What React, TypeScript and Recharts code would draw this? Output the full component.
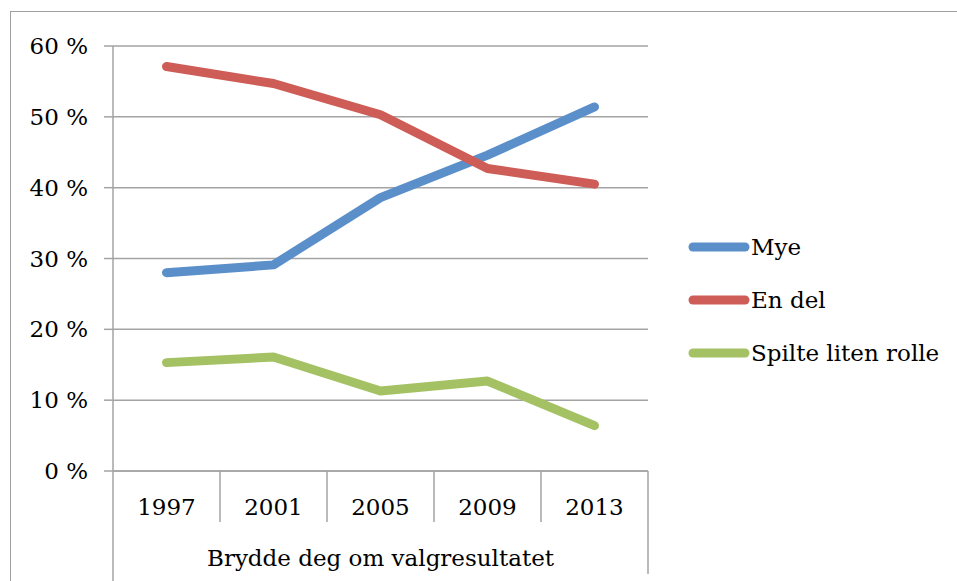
import { CartesianGrid, Line, LineChart, XAxis, YAxis } from "recharts";

const years = ["1997", "2001", "2005", "2009", "2013"];
const mye = [28.0, 29.1, 38.6, 44.6, 51.4];
const enDel = [57.1, 54.7, 50.3, 42.7, 40.5];
const spilteLiten = [15.3, 16.1, 11.3, 12.7, 6.4];
const yTicks = [0, 10, 20, 30, 40, 50, 60];
const groupLabel = "Brydde deg om valgresultatet";

const series = [
  { key: "mye", name: "Mye", color: "#5B8FCA" },
  { key: "enDel", name: "En del", color: "#CD5D56" },
  { key: "spilte", name: "Spilte liten rolle", color: "#A4C263" },
];

const data = years.map((year, i) => ({
  year,
  mye: mye[i],
  enDel: enDel[i],
  spilte: spilteLiten[i],
}));

const W = 957;
const H = 581;
const PLOT_LEFT = 113;
const PLOT_RIGHT = 648;
const PLOT_TOP = 46;
const PLOT_BOTTOM = 471;
const BAND = (PLOT_RIGHT - PLOT_LEFT) / years.length;
const FONT = "'DejaVu Serif', serif";
const FS = 23;
const AXIS_GRAY = "#a3a3a3";

function YearTick(props: any) {
  const { x, index, payload } = props;
  const left = x - BAND / 2;
  const last = index === years.length - 1;
  return (
    <g>
      <line x1={left} x2={left} y1={PLOT_BOTTOM} y2={index === 0 ? H : PLOT_BOTTOM + 51} stroke={AXIS_GRAY} strokeWidth={1.5} />
      {last && <line x1={x + BAND / 2} x2={x + BAND / 2} y1={PLOT_BOTTOM} y2={H - 7} stroke={AXIS_GRAY} strokeWidth={1.5} />}
      <text x={x} y={PLOT_BOTTOM + 44} textAnchor="middle" fontSize={FS} fontFamily={FONT} fill="#000">
        {payload.value}
      </text>
      {index === 0 && (
        <text x={(PLOT_LEFT + PLOT_RIGHT) / 2} y={PLOT_BOTTOM + 95} textAnchor="middle" fontSize={FS} fontFamily={FONT} fill="#000">
          {groupLabel}
        </text>
      )}
    </g>
  );
}

function PctTick(props: any) {
  const { x, y, payload } = props;
  return (
    <text x={x} y={y} dy={8} textAnchor="end" fontSize={FS} fontFamily={FONT} fill="#000">
      {`${payload.value} %`}
    </text>
  );
}

function LegendBox() {
  return (
    <div style={{ position: "absolute", left: 688, top: 220, width: 265, fontFamily: FONT, fontSize: FS, color: "#000" }}>
      {series.map((s) => (
        <div key={s.key} style={{ display: "flex", alignItems: "center", height: 53 }}>
          <svg width={62} height={12} style={{ marginRight: 1 }}>
            <line x1={5} x2={57} y1={6} y2={6} stroke={s.color} strokeWidth={9} strokeLinecap="round" />
          </svg>
          <span>{s.name}</span>
        </div>
      ))}
    </div>
  );
}

export default function App() {
  return (
    <div style={{ position: "absolute", left: 0, top: 0, width: W, height: H, overflow: "hidden", background: "#fff" }}>
      <div
        style={{
          position: "absolute",
          left: 10,
          top: 11,
          width: 2000,
          height: 2000,
          border: "1.5px solid #a0a0a0",
        }}
      />
      <div style={{ position: "absolute", left: 0, top: 0 }}>
        <LineChart
          width={W}
          height={H}
          data={data}
          margin={{ top: PLOT_TOP, right: W - PLOT_RIGHT, bottom: 0, left: 0 }}
        >
          <CartesianGrid vertical={false} stroke={AXIS_GRAY} strokeWidth={1.5} />
          <XAxis
            dataKey="year"
            height={H - PLOT_BOTTOM}
            padding={{ left: BAND / 2, right: BAND / 2 }}
            axisLine={{ stroke: AXIS_GRAY, strokeWidth: 1.5 }}
            tickLine={false}
            interval={0}
            tick={<YearTick />}
          />
          <YAxis
            width={PLOT_LEFT}
            domain={[0, 60]}
            ticks={yTicks}
            interval={0}
            axisLine={{ stroke: AXIS_GRAY, strokeWidth: 1.5 }}
            tickLine={{ stroke: AXIS_GRAY, strokeWidth: 1.5 }}
            tickSize={9}
            tickMargin={16}
            tick={<PctTick />}
          />
          {series.map((s) => (
            <Line
              key={s.key}
              type="linear"
              dataKey={s.key}
              name={s.name}
              stroke={s.color}
              strokeWidth={9}
              strokeLinecap="round"
              strokeLinejoin="round"
              dot={false}
              activeDot={false}
              isAnimationActive={false}
            />
          ))}
        </LineChart>
      </div>
      <LegendBox />
    </div>
  );
}
